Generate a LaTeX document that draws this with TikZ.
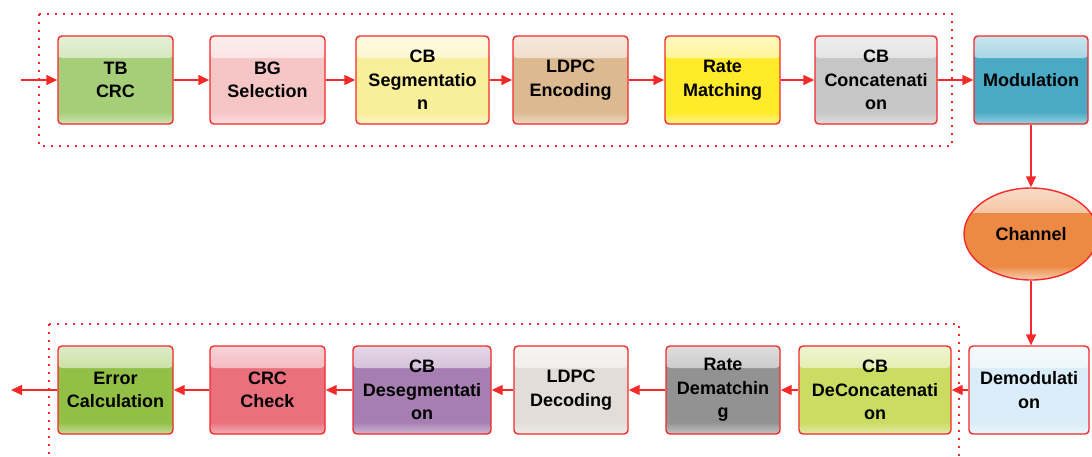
\documentclass[tikz,border=0pt]{standalone}
\usepackage{fontspec}
\setmainfont{Liberation Sans}
\usetikzlibrary{shapes.geometric,arrows.meta}
\definecolor{bred}{HTML}{F42A2A}
\definecolor{cTB}{HTML}{A6CE78}
\definecolor{cBG}{HTML}{F6C6C6}
\definecolor{cSEG}{HTML}{F9EE9A}
\definecolor{cENC}{HTML}{DDB992}
\definecolor{cRM}{HTML}{FFEB2A}
\definecolor{cCAT}{HTML}{C6C6C6}
\definecolor{cMOD}{HTML}{4AAAC6}
\definecolor{cCH}{HTML}{EC8A44}
\definecolor{cEC}{HTML}{92C046}
\definecolor{cCRC}{HTML}{EA707E}
\definecolor{cDS}{HTML}{A67EB2}
\definecolor{cDEC}{HTML}{E2DDD8}
\definecolor{cRDM}{HTML}{929292}
\definecolor{cDCAT}{HTML}{CADC62}
\definecolor{cDMOD}{HTML}{DAEDF8}
\tikzset{
  blk/.style args={#1/#2}{draw=bred, line width=1.4pt, rounded corners=4pt,
    fill=#1,
    path picture={
      \shade[top color=#1!30!white, bottom color=#1]
        (path picture bounding box.north west) rectangle ([yshift=-22pt]path picture bounding box.north east);
      \shade[top color=#1, bottom color=#1!55!white]
        ([yshift=12pt]path picture bounding box.south west) rectangle (path picture bounding box.south east);
    },
    minimum width=#2, minimum height=88pt, inner sep=0pt, align=center,
    font=\bfseries\fontsize{18}{23.5}\selectfont},
  chan/.style={draw=bred, line width=1.4pt, ellipse, minimum width=134pt, minimum height=92pt,
    fill=cCH,
    path picture={
      \shade[top color=cCH!30!white, bottom color=cCH]
        (path picture bounding box.north west) rectangle ([yshift=-24pt]path picture bounding box.north east);
      \shade[top color=cCH, bottom color=cCH!40!white]
        ([yshift=14pt]path picture bounding box.south west) rectangle (path picture bounding box.south east);
    },
    inner sep=0pt, font=\bfseries\fontsize{18}{23.5}\selectfont},
  conn/.style={draw=bred, line width=1.4pt, -{Triangle[length=11pt,width=10pt]}},
  dotbox/.style={draw=bred, line width=2pt, dash pattern=on 2pt off 6pt}
}
\begin{document}
\begin{tikzpicture}[x=1pt,y=-1pt]
\useasboundingbox (0,0) rectangle (1092,456);
\draw[dotbox] (39,14) rectangle (952,146);
\draw[dotbox] (49,324) -- (959,324) -- (959,456);
\draw[dotbox] (49,324) -- (49,456);
% top row
\node[blk=cTB/115pt] (tb) at (115.5,80) {TB\\CRC};
\node[blk=cBG/115pt] (bg) at (267.5,80) {BG\\Selection};
\node[blk=cSEG/133pt] (seg) at (422.5,80) {CB\\Segmentatio\\n};
\node[blk=cENC/115pt] (enc) at (570.5,80) {LDPC\\Encoding};
\node[blk=cRM/115pt] (rm) at (722.5,80) {Rate\\Matching};
\node[blk=cCAT/122pt] (cat) at (876,80) {CB\\Concatenati\\on};
\node[blk=cMOD/114pt] (mod) at (1031,80) {Modulation};
\node[chan] (ch) at (1031,234) {Channel};
% bottom row
\node[blk=cDMOD/120pt] (dmod) at (1029,390) {Demodulati\\on};
\node[blk=cDCAT/152pt] (dcat) at (875,390) {CB\\DeConcatenati\\on};
\node[blk=cRDM/114pt] (rdm) at (723,390) {Rate\\Dematchin\\g};
\node[blk=cDEC/114pt] (dec) at (571,390) {LDPC\\Decoding};
\node[blk=cDS/138pt] (ds) at (422,390) {CB\\Desegmentati\\on};
\node[blk=cCRC/115pt] (crc) at (267.5,390) {CRC\\Check};
\node[blk=cEC/115pt] (ec) at (115.5,390) {Error\\Calculation};
\coordinate (in) at (21,80);
\coordinate (out) at (11,390);
\draw[conn] (in) -- (tb);
\draw[conn] (tb) -- (bg);
\draw[conn] (bg) -- (seg);
\draw[conn] (seg) -- (enc);
\draw[conn] (enc) -- (rm);
\draw[conn] (rm) -- (cat);
\draw[conn] (cat) -- (mod);
\draw[conn] (mod) -- (ch);
\draw[conn] (ch) -- (dmod.north -| ch);
\draw[conn] (dmod) -- (dcat);
\draw[conn] (dcat) -- (rdm);
\draw[conn] (rdm) -- (dec);
\draw[conn] (dec) -- (ds);
\draw[conn] (ds) -- (crc);
\draw[conn] (crc) -- (ec);
\draw[conn] (ec) -- (out);
\end{tikzpicture}
\end{document}
